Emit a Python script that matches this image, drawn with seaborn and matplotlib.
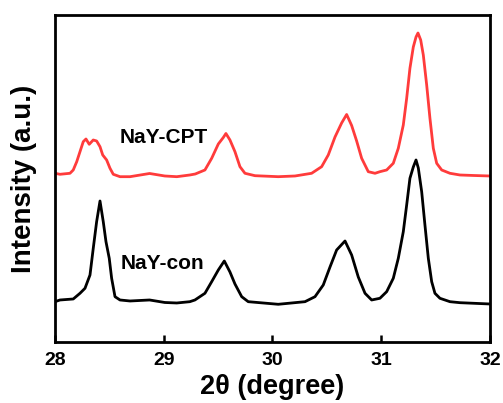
import numpy as np
import pandas as pd
import seaborn as sb
from matplotlib import pyplot as plt

# XRD patterns (2theta in degree, intensity in a.u.)
theta_cpt = [28.00, 28.046, 28.138, 28.168, 28.200, 28.230, 28.260, 28.285, 28.315, 28.352,
             28.383, 28.414, 28.439, 28.475, 28.506, 28.536, 28.598, 28.690, 28.87, 29.01,
             29.12, 29.24, 29.29, 29.379, 29.441, 29.502, 29.548, 29.572, 29.609, 29.655,
             29.701, 29.747, 29.839, 30.053, 30.207, 30.360, 30.452, 30.513, 30.575, 30.636,
             30.682, 30.728, 30.774, 30.820, 30.881, 30.943, 30.988, 31.050, 31.111, 31.157,
             31.203, 31.234, 31.264, 31.295, 31.320, 31.338, 31.363, 31.387, 31.418, 31.448,
             31.479, 31.510, 31.556, 31.632, 31.724, 31.85, 32.00]
int_cpt = [168.7, 167.7, 168.7, 172.0, 180.3, 190.3, 200.3, 203.0, 197.7, 202.0,
           201.0, 195.3, 187.0, 182.0, 173.7, 167.7, 165.3, 165.3, 168.5, 166.0,
           165.3, 167.0, 168.0, 172.0, 183.7, 198.0, 204.5, 208.5, 202.0, 190.3,
           175.3, 168.7, 166.3, 165.3, 166.0, 168.7, 175.3, 187.0, 205.0, 219.0,
           227.5, 216.5, 201.0, 183.7, 170.3, 168.7, 170.3, 172.0, 178.7, 193.7,
           217.0, 243.7, 273.7, 295.0, 305.0, 309.0, 302.0, 287.0, 257.0, 223.7,
           193.7, 178.7, 172.0, 168.7, 167.0, 166.5, 166.0]

theta_con = [28.00, 28.046, 28.168, 28.230, 28.276, 28.322, 28.352, 28.383, 28.414, 28.444,
             28.469, 28.499, 28.521, 28.552, 28.598, 28.690, 28.87, 29.01, 29.12, 29.24,
             29.287, 29.379, 29.441, 29.502, 29.557, 29.609, 29.655, 29.717, 29.777, 30.053,
             30.299, 30.391, 30.467, 30.529, 30.590, 30.667, 30.728, 30.789, 30.851, 30.912,
             30.988, 31.050, 31.111, 31.157, 31.203, 31.234, 31.264, 31.295, 31.320, 31.341,
             31.372, 31.402, 31.433, 31.464, 31.494, 31.540, 31.632, 31.724, 32.00]
int_con = [40.3, 42.0, 43.0, 48.7, 53.7, 67.0, 93.7, 120.3, 141.0, 120.3,
           100.3, 83.7, 63.7, 45.3, 42.0, 41.0, 42.0, 39.5, 39.0, 40.3,
           42.0, 48.7, 60.3, 72.0, 81.0, 70.0, 58.0, 45.3, 40.3, 37.7,
           40.3, 45.3, 57.0, 75.0, 92.0, 101.0, 87.0, 65.0, 48.7, 42.0,
           43.7, 50.3, 63.7, 83.7, 110.3, 137.0, 163.7, 175.0, 182.0, 174.0,
           150.3, 117.0, 83.7, 60.3, 48.7, 43.7, 40.3, 39.3, 38.0]

labels = ['NaY-CPT', 'NaY-con']

df = pd.concat([
    pd.DataFrame({'theta': theta_cpt, 'intensity': int_cpt, 'sample': labels[0]}),
    pd.DataFrame({'theta': theta_con, 'intensity': int_con, 'sample': labels[1]}),
])

sb.set_style('ticks')
plt.rcParams['font.family'] = ['Liberation Sans', 'DejaVu Sans']
plt.rcParams['font.weight'] = 'bold'
plt.rcParams['text.color'] = 'black'
plt.rcParams['axes.labelcolor'] = 'black'
plt.rcParams['xtick.color'] = 'black'

fig = plt.figure(figsize=(5.03, 4.03), dpi=100)
ax = fig.add_axes([0.1093, 0.1514, 0.8648, 0.8114])
sb.lineplot(data=df, x='theta', y='intensity', hue='sample', sort=False,
            palette={'NaY-CPT': '#ff3b3b', 'NaY-con': 'black'},
            linewidth=2.0, legend=False, ax=ax)
for ln in ax.lines:
    ln.set_solid_joinstyle('round')

ax.text(28.59, 199, labels[0], fontsize=15, fontweight='bold', ha='left', va='baseline')
ax.text(28.607, 73, labels[1], fontsize=15, fontweight='bold', ha='left', va='baseline')

ax.set_xlim(28, 32)
ax.set_ylim(0, 327)
ax.set_xticks([28, 29, 30, 31, 32])
ax.set_yticks([])
ax.tick_params(axis='x', direction='in', length=5, width=1.8, labelsize=14, pad=7)
for s in ax.spines.values():
    s.set_linewidth(2.0)
    s.set_color('black')
ax.set_xlabel('2θ (degree)', fontsize=19.5, fontweight='bold', labelpad=4)
ax.set_ylabel('Intensity (a.u.)', fontsize=20, fontweight='bold', labelpad=13)

plt.savefig('out.png', dpi=100)
